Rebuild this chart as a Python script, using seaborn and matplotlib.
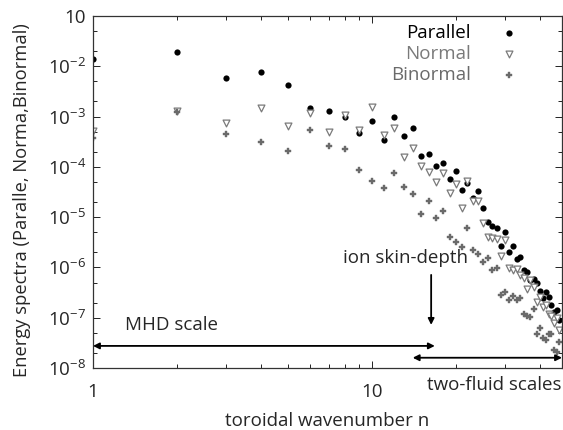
'''
    Energy spectra of the field components vs toroidal wavenumber
'''

# --
# Dependancies

import matplotlib
matplotlib.use('Agg')
import matplotlib.pyplot as plt
from matplotlib.ticker import FixedLocator, LogLocator, NullFormatter
import seaborn as sns
import numpy as np

# --
# Data

n = list(range(1, 48))

parallel = [1.4e-2, 1.9e-2, 5.8e-3, 7.7e-3, 4.2e-3, 1.5e-3, 1.3e-3, 9.8e-4, 4.7e-4, 8.2e-4,
            3.4e-4, 9.8e-4, 4.1e-4, 5.9e-4, 1.65e-4, 1.8e-4, 1.04e-4, 1.2e-4, 5.7e-5, 8.3e-5,
            3.5e-5, 4.8e-5, 2.4e-5, 3.3e-5, 1.5e-5, 8.0e-6, 6.7e-6, 6.1e-6, 2.7e-6, 5.1e-6,
            2.0e-6, 2.7e-6, 1.5e-6, 1.6e-6, 8.9e-7, 8.1e-7, 5.6e-7, 5.9e-7, 4.9e-7, 3.4e-7,
            2.5e-7, 3.3e-7, 2.6e-7, 1.8e-7, 1.3e-7, 1.4e-7, 9.0e-8]

normal = [5.2e-4, 1.3e-3, 7.5e-4, 1.5e-3, 6.5e-4, 1.2e-3, 4.9e-4, 1.08e-3, 5.4e-4, 1.55e-3,
          4.3e-4, 5.9e-4, 1.6e-4, 2.4e-4, 1.04e-4, 7.9e-5, 5.0e-5, 7.6e-5, 3.0e-5, 4.6e-5,
          1.5e-5, 5.2e-5, 2.1e-5, 2.1e-5, 7.7e-6, 4.0e-6, 3.9e-6, 3.7e-6, 1.7e-6, 3.5e-6,
          9.8e-7, 8.9e-7, 9.3e-7, 7.1e-7, 6.2e-7, 3.7e-7, 5.6e-7, 4.1e-7, 2.1e-7, 2.6e-7,
          1.6e-7, 1.8e-7, 1.2e-7, 1.1e-7, 7.9e-8, 9.9e-8, 5.7e-8]

binormal = [3.8e-4, 1.25e-3, 4.5e-4, 3.1e-4, 2.1e-4, 5.4e-4, 2.6e-4, 2.3e-4, 8.7e-5, 5.2e-5,
            3.8e-5, 7.6e-5, 4.0e-5, 2.9e-5, 1.16e-5, 2.1e-5, 9.6e-6, 1.33e-5, 4.0e-6, 3.2e-6,
            2.6e-6, 6.1e-6, 2.2e-6, 1.85e-6, 1.3e-6, 1.55e-6, 8.9e-7, 9.8e-7, 2.8e-7, 3.3e-7,
            2.3e-7, 2.7e-7, 2.2e-7, 2.5e-7, 1.2e-7, 1.09e-7, 1.04e-7, 1.5e-7, 4.8e-8, 6.3e-8,
            4.0e-8, 3.6e-8, 4.8e-8, 4.8e-8, 2.3e-8, 2.1e-8, 3.3e-8]

ytick_vals = [1e-1, 1e-2, 1e-3, 1e-4, 1e-5, 1e-6, 1e-7, 1e-8]
ytick_labels = ['10', '$10^{-2}$', '$10^{-3}$', '$10^{-4}$', '$10^{-5}$',
                '$10^{-6}$', '$10^{-7}$', '$10^{-8}$']
xtick_vals = [1, 10]
xtick_labels = ['1', '10']

# --
# Style

sns.set_style('ticks')
plt.rcParams['font.family'] = ['Open Sans', 'DejaVu Sans']
plt.rcParams['mathtext.fontset'] = 'custom'
plt.rcParams['mathtext.rm'] = 'Open Sans'
plt.rcParams['mathtext.it'] = 'Open Sans'
plt.rcParams['mathtext.default'] = 'regular'
fs = 13.5

# --
# Plot

W, H = 563, 430
fig = plt.figure(figsize=(W / 100, H / 100), dpi=100)
ax = fig.add_axes([93 / W, 62 / H, 469 / W, 352 / H])

sns.scatterplot(x=n, y=parallel, ax=ax, marker='o', color='black', s=20,
                linewidth=0, label='Parallel')
sns.scatterplot(x=n, y=normal, ax=ax, marker='v', color='white', s=24,
                edgecolor='#7a7a7a', linewidth=0.9, label='Normal')
sns.scatterplot(x=n, y=binormal, ax=ax, marker='P', color='#6a6a6a', s=14,
                edgecolor='#6a6a6a', linewidth=0.3, label='Binormal')

ax.set_xscale('log')
ax.set_yscale('log')
ax.set_xlim(1, 48)
ax.set_ylim(1e-8, 1e-1)

ax.xaxis.set_major_locator(FixedLocator(xtick_vals))
ax.set_xticklabels(xtick_labels)
ax.xaxis.set_minor_locator(LogLocator(base=10, subs=np.arange(2, 10)))
ax.xaxis.set_minor_formatter(NullFormatter())
ax.yaxis.set_major_locator(FixedLocator(ytick_vals))
ax.set_yticklabels(ytick_labels)
ax.yaxis.set_minor_locator(LogLocator(base=10, subs=(2, 5)))
ax.yaxis.set_minor_formatter(NullFormatter())

ax.tick_params(which='both', direction='in', top=True, right=True,
               labelsize=fs, color='#222222', width=0.7)
ax.tick_params(axis='y', which='major', length=5, pad=5)
ax.tick_params(axis='x', which='major', length=5, pad=11)
ax.tick_params(which='minor', length=3)
for sp in ax.spines.values():
    sp.set_linewidth(0.9)
    sp.set_color('#333333')

ax.set_xlabel('toroidal wavenumber n', fontsize=fs, labelpad=8)
ax.set_ylabel('Energy spectra (Paralle, Norma,Binormal)', fontsize=13.2)
ax.yaxis.set_label_coords(-0.132, 0.477)

leg = ax.legend(loc='upper right', bbox_to_anchor=(0.948, 1.003), frameon=False,
                markerfirst=False, fontsize=fs, handletextpad=1.05,
                labelspacing=0.16, borderpad=0.0)
for txt, c in zip(leg.get_texts(), ['black', '#7a7a7a', '#6a6a6a']):
    txt.set_color(c)

# --
# Scale annotations

ax.annotate('', xy=(1, 2.75e-8), xytext=(16.8, 2.75e-8),
            arrowprops=dict(arrowstyle='<|-|>', lw=1.3, color='black',
                            mutation_scale=9, shrinkA=0, shrinkB=0))
ax.annotate('', xy=(14.0, 1.6e-8), xytext=(48, 1.6e-8), annotation_clip=False,
            arrowprops=dict(arrowstyle='<|-|>', lw=1.3, color='black',
                            mutation_scale=9, shrinkA=0, shrinkB=0))
ax.annotate('', xy=(16.3, 7.2e-8), xytext=(16.3, 7.1e-7),
            arrowprops=dict(arrowstyle='-|>', lw=1.3, color='black',
                            mutation_scale=9, shrinkA=0, shrinkB=0))
ax.text(1.30, 7.2e-8, 'MHD scale', fontsize=fs, ha='left', va='center')
ax.text(13.2, 1.55e-6, 'ion skin-depth', fontsize=fs, ha='center', va='center')
fig.text(427 / W, 1 - 385 / H, 'two-fluid scales', fontsize=fs, ha='left', va='center')

fig.savefig('out.png', dpi=100)
